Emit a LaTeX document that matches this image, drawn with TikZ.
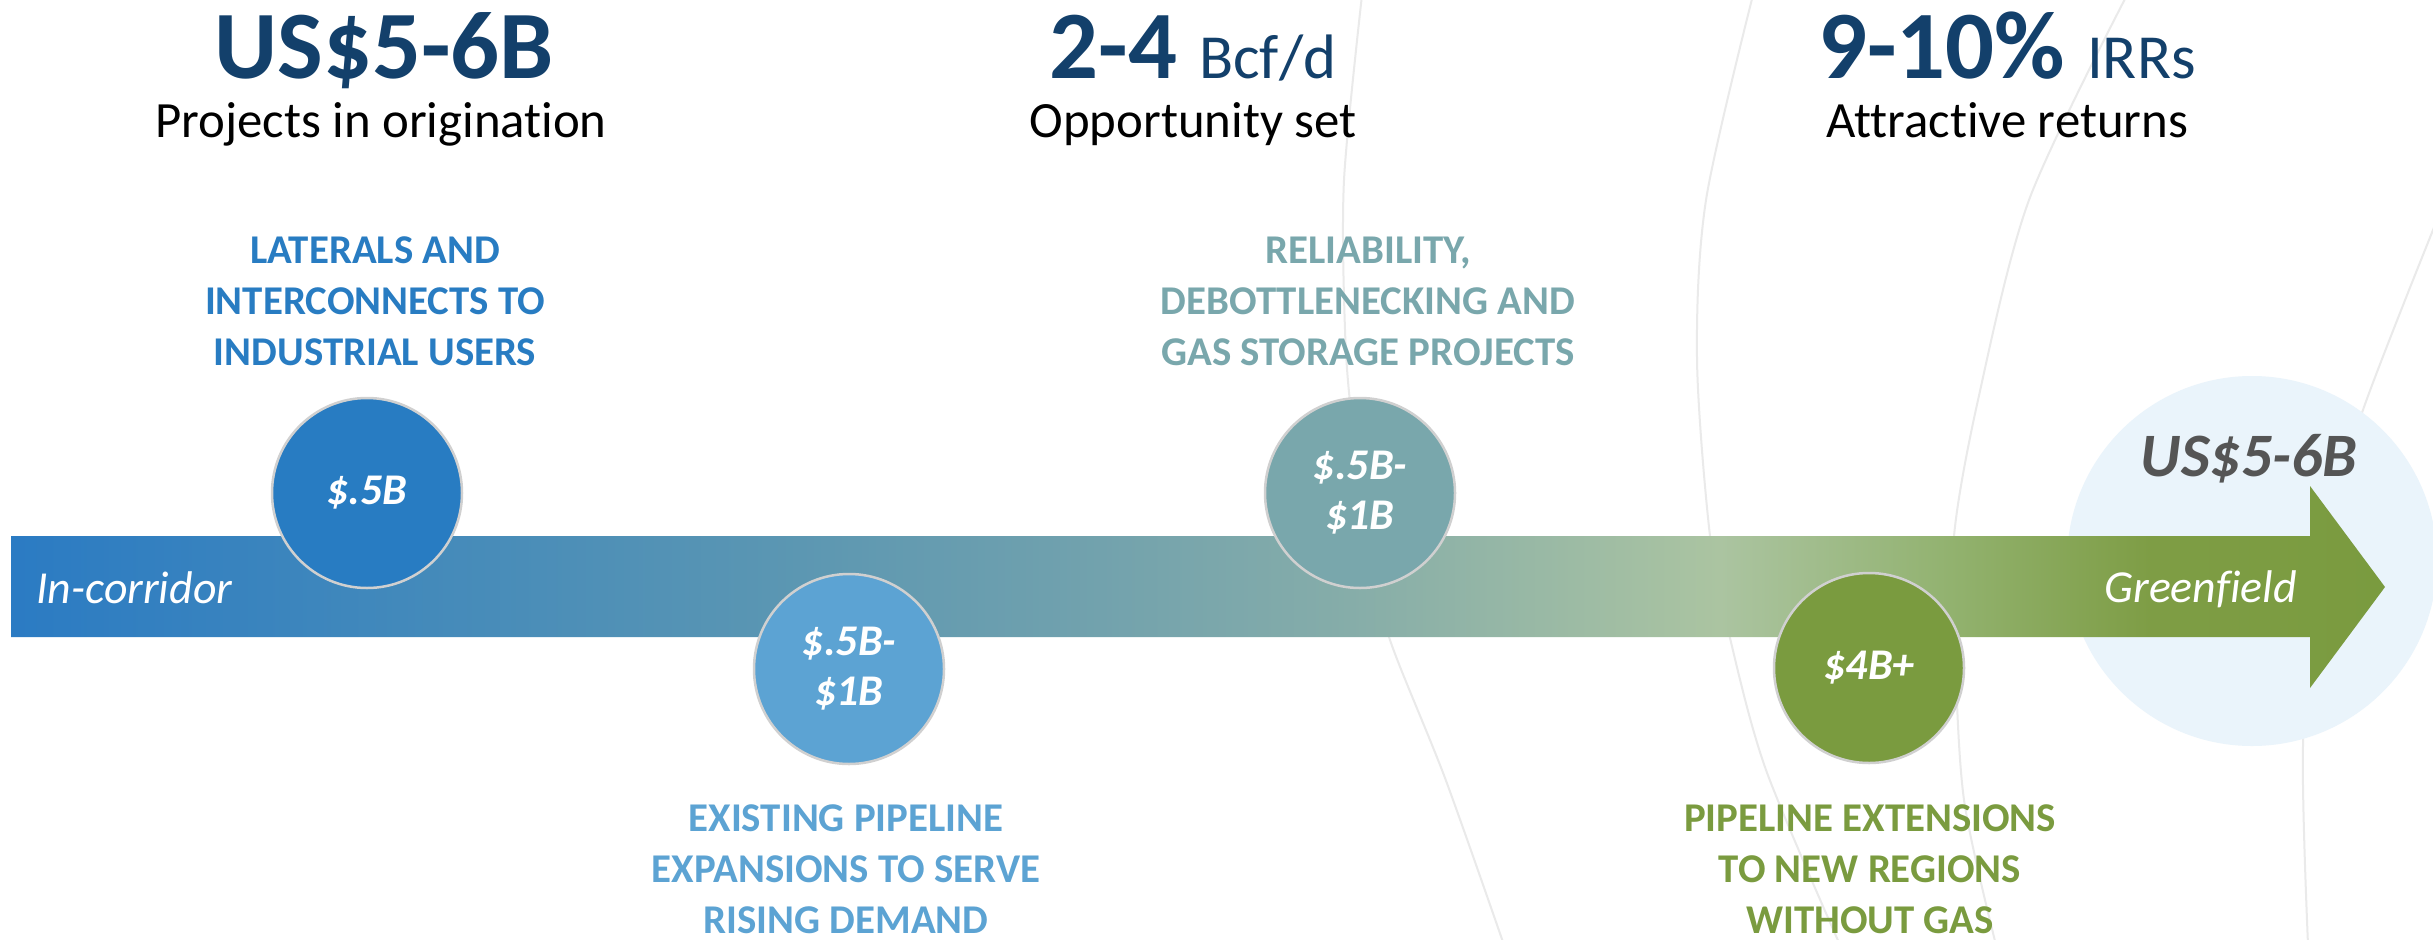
\documentclass[tikz,border=0pt]{standalone}
\usepackage{fontspec}
\setmainfont{Carlito}[Ligatures=CommonOff]
\definecolor{navy}{HTML}{13406B}
\definecolor{cone}{HTML}{287CC2}
\definecolor{ctwo}{HTML}{5CA3D3}
\definecolor{cthree}{HTML}{79A7AC}
\definecolor{cfour}{HTML}{7A9B3F}
\definecolor{halo}{HTML}{EAF4FB}
\definecolor{grtext}{HTML}{555555}
\definecolor{ring}{HTML}{D0D0D0}
\definecolor{arcgray}{HTML}{EAEAEA}
\definecolor{gz}{HTML}{2B7BC3}
\definecolor{ga}{HTML}{4289BB}
\definecolor{gb}{HTML}{5C97B2}
\definecolor{gc}{HTML}{72A2AD}
\definecolor{gd}{HTML}{86ADA9}
\definecolor{ge}{HTML}{ABC4A1}
\definecolor{gf}{HTML}{92B26F}
\definecolor{gg}{HTML}{7E9D45}
\definecolor{gh}{HTML}{7A9B3F}
\pgfdeclarehorizontalshading{barshade}{100bp}{color(0bp)=(gz); color(25bp)=(gz); color(33.19bp)=(ga); color(41.62bp)=(gb); color(47.94bp)=(gc); color(53.2bp)=(gd); color(60.99bp)=(ge); color(65.84bp)=(gf); color(70.05bp)=(gg); color(75bp)=(gh); color(100bp)=(gh)}
\tikzset{
  bubble/.style={circle, draw=ring, line width=2.5bp, minimum size=190bp, inner sep=0pt,
    text=white, font=\fontsize{44}{50}\selectfont\bfseries\itshape, align=center},
  cat/.style={font=\fontsize{41}{51}\selectfont\bfseries, align=center, inner sep=0pt, anchor=base},
  bigfig/.style={font=\fontsize{97}{100}\selectfont\bfseries, text=navy, inner sep=0pt, anchor=base},
  subline/.style={font=\fontsize{51}{56}\selectfont, text=black, inner sep=0pt, anchor=base},
  arcline/.style={draw=arcgray, line width=2bp},
}
\begin{document}
\begin{tikzpicture}[x=1bp,y=-1bp]
\useasboundingbox[fill=white] (0,0) rectangle (2433,939);
% faint background arcs
\draw[arcline] plot[smooth] coordinates {(1362,-5) (1344,180) (1345,330) (1352,420) (1372,560) (1390,640) (1445,778) (1504,945)};
\draw[arcline] plot[smooth] coordinates {(1753,-5) (1706,200) (1697,359) (1710,536) (1730,638) (1766,770) (1840,945)};
\draw[arcline] plot[smooth] coordinates {(2127,-5) (2029,200) (1978,400) (1954,536) (1955,650) (1964,800) (1996,945)};
\draw[arcline] plot[smooth] coordinates {(2445,200) (2364,407) (2318,560) (2303,745) (2308,945)};
% halo
\node[circle, fill=halo, minimum size=370bp, inner sep=0pt] (halo) at (2252,561) {};
% arrow bar
\shade[shading=barshade] (11,536) -- (2310,536) -- (2310,486) -- (2385,587) -- (2310,688) -- (2310,637) -- (11,637) -- cycle;
\node[font=\fontsize{46}{50}\selectfont\itshape, text=white, inner sep=0pt, anchor=base west] (incor) at (36,603) {In-corridor};
\node[font=\fontsize{46}{50}\selectfont\itshape, text=white, inner sep=0pt, anchor=base east] (green) at (2297,602) {Greenfield};
\node[font=\fontsize{62}{66}\selectfont\bfseries\itshape, text=grtext, inner sep=0pt, anchor=base] (total) at (2249,476) {US\$5-6B};
% bubbles
\node[bubble, fill=cone] (b1) at (367,493) {\$.5B};
\node[bubble, fill=ctwo] (b2) at (849,669) {\$.5B-\\\$1B};
\node[bubble, fill=cthree] (b3) at (1360,493) {\$.5B-\\\$1B};
\node[bubble, fill=cfour] (b4) at (1869,668) {\$4B+};
% category labels (anchor = baseline of last line)
\node[cat, text=cone] (l1) at (375,365) {LATERALS AND\\INTERCONNECTS TO\\INDUSTRIAL USERS};
\node[cat, text=cthree] (l3) at (1368,365) {RELIABILITY,\\DEBOTTLENECKING AND\\GAS STORAGE PROJECTS};
\node[cat, text=ctwo] (l2) at (846,933) {EXISTING PIPELINE\\EXPANSIONS TO SERVE\\RISING DEMAND};
\node[cat, text=cfour] (l4) at (1870,933) {PIPELINE EXTENSIONS\\TO NEW REGIONS\\WITHOUT GAS};
% headline figures
\node[bigfig] (h1) at (384,78) {US\$5-6B};
\node[subline] (s1) at (381,137) {Projects in origination};
\node[bigfig] (h2) at (1193,78) {2-4 {\fontsize{63}{66}\selectfont\mdseries Bcf/d}};
\node[subline] (s2) at (1193,137) {Opportunity set};
\node[bigfig] (h3) at (2007,78) {9-10\% {\fontsize{63}{66}\selectfont\mdseries IRRs}};
\node[subline] (s3) at (2007,137) {Attractive returns};
\end{tikzpicture}
\end{document}
